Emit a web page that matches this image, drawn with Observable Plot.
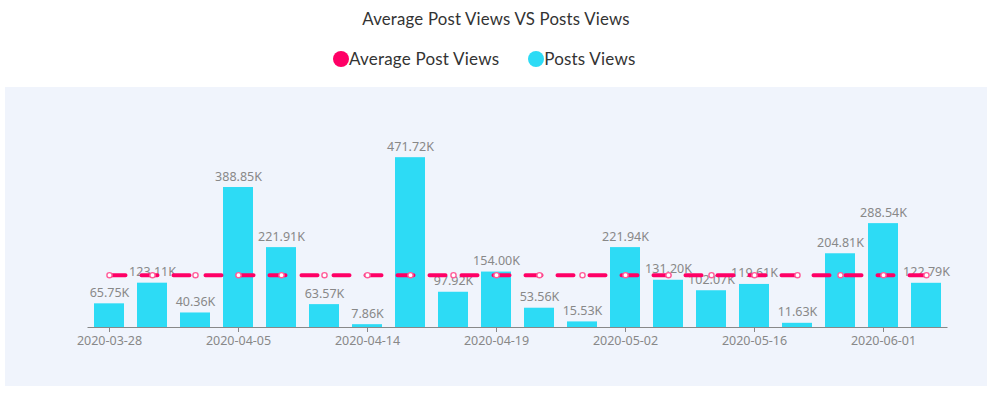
<!DOCTYPE html>
<html>
<head>
<meta charset="utf-8">
<script src="https://cdn.jsdelivr.net/npm/d3@7"></script>
<script src="https://cdn.jsdelivr.net/npm/@observablehq/plot@0.6"></script>
<style>
  html, body { margin: 0; padding: 0; background: #fff; }
  body { width: 992px; height: 394px; font-family: Lato, "Open Sans", sans-serif; }
  #title { position: absolute; left: 0; top: 8px; width: 992px; text-align: center; font-size: 16.8px; color: #333; letter-spacing: 0.2px; }
  #legend { position: absolute; top: 48px; left: 333px; display: flex; align-items: center; font-size: 17px; color: #333; letter-spacing: 0.2px; }
  .item { display: flex; align-items: center; margin-right: 29px; }
  .sw { width: 16px; height: 16px; border-radius: 50%; margin-right: 0px; }
  #chart { position: absolute; left: 5px; top: 87px; }
  #chart svg { background: #f0f4fc; display: block; }
</style>
</head>
<body>
<div id="title">Average Post Views VS Posts Views</div>
<div id="legend">
  <div class="item"><div class="sw" style="background:#ff0066"></div><span>Average Post Views</span></div>
  <div class="item"><div class="sw" style="background:#2ddbf5"></div><span>Posts Views</span></div>
</div>
<div id="chart"></div>
<script>
const dates = ["2020-03-28","2020-03-31","2020-04-02","2020-04-05","2020-04-08","2020-04-11","2020-04-14","2020-04-15","2020-04-17","2020-04-19","2020-04-23","2020-04-27","2020-05-02","2020-05-06","2020-05-10","2020-05-16","2020-05-20","2020-05-25","2020-06-01","2020-06-05"];
const postsViews = [65.75,123.11,40.36,388.85,221.91,63.57,7.86,471.72,97.92,154.00,53.56,15.53,221.94,131.20,102.07,119.61,11.63,204.81,288.54,122.79];
const avgViews = [145.34,145.34,145.34,145.34,145.34,145.34,145.34,145.34,145.34,145.34,145.34,145.34,145.34,145.34,145.34,145.34,145.34,145.34,145.34,145.34];
const tickDates = ["2020-03-28","2020-04-05","2020-04-14","2020-04-19","2020-05-02","2020-05-16","2020-06-01"];

const rows = dates.map((d, i) => ({date: d, views: postsViews[i], avg: avgViews[i]}));

const chart = Plot.plot({
  width: 982,
  height: 299,
  marginLeft: 82.5,
  marginRight: 39.5,
  marginTop: 60,
  marginBottom: 59,
  style: {fontFamily: "'Noto Sans', sans-serif", background: "#f0f4fc"},
  x: {domain: dates, paddingInner: 0.3, paddingOuter: 0.15, label: null},
  y: {domain: [0, 500], axis: null},
  marks: [
    Plot.barY(rows, {x: "date", y: "views", fill: "#2ddbf5"}),
    Plot.ruleY([0], {stroke: "#888", strokeWidth: 1}),
    Plot.axisX({ticks: tickDates, tickSize: 5, stroke: "#888", tickPadding: 4, fontSize: 12.5, fill: "#888", label: null}),
    Plot.text(rows, {x: "date", y: "views", text: d => d.views.toFixed(2) + "K", lineAnchor: "bottom", dy: -7, fill: "#888", fontSize: 12.5}),
    Plot.lineY(rows, {x: "date", y: "avg", stroke: "#ff0066", strokeWidth: 4, strokeDasharray: "16,16"}),
    Plot.dot(rows, {x: "date", y: "avg", r: 2.6, fill: "#fff", stroke: "#ff5c9a", strokeWidth: 1.4})
  ]
});
document.getElementById("chart").appendChild(chart);
</script>
</body>
</html>
